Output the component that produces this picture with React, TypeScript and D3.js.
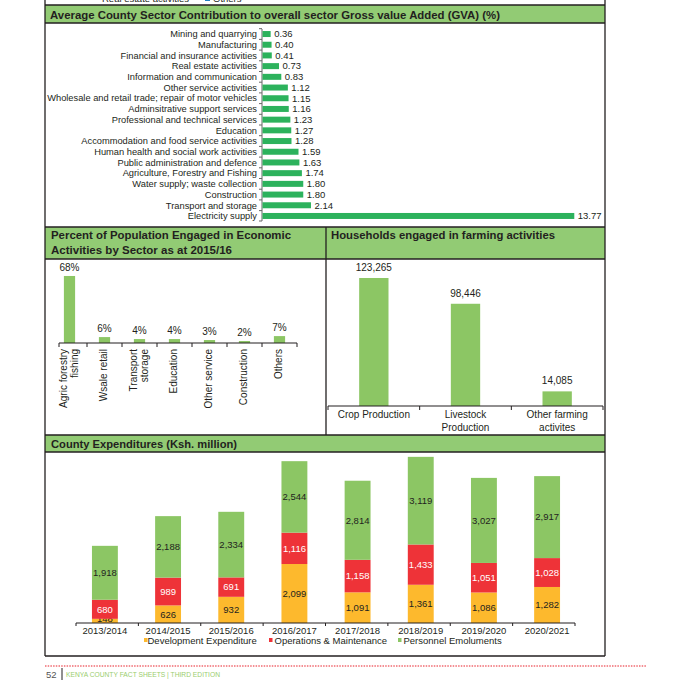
import React from 'react'
import * as d3 from 'd3'

// GVA contribution (%)
const gvaSectors = [
    'Mining and quarrying',
    'Manufacturing',
    'Financial and insurance activities',
    'Real estate activities',
    'Information and communication',
    'Other service activities',
    'Wholesale and retail trade; repair of motor vehicles',
    'Adminsitrative support services',
    'Professional and technical services',
    'Education',
    'Accommodation and food service activities',
    'Human health and social work activities',
    'Public administration and defence',
    'Agriculture, Forestry and Fishing',
    'Water supply; waste collection',
    'Construction',
    'Transport and storage',
    'Electricity supply',
]
const gvaValues = [0.36, 0.4, 0.41, 0.73, 0.83, 1.12, 1.15, 1.16, 1.23, 1.27, 1.28, 1.59, 1.63, 1.74, 1.8, 1.8, 2.14, 13.77]

// population engaged by sector (%)
const popSectors = [
    ['Agric forestry', 'fishing'],
    ['Wsale retail'],
    ['Transport', 'storage'],
    ['Education'],
    ['Other service'],
    ['Construction'],
    ['Others'],
]
const popValues = [68, 6, 4, 4, 3, 2, 7]

// households in farming
const farmCats = [['Crop Production'], ['Livestock', 'Production'], ['Other farming', 'activites']]
const farmValues = [123265, 98446, 14085]

// county expenditures
const years = ['2013/2014', '2014/2015', '2015/2016', '2016/2017', '2017/2018', '2018/2019', '2019/2020', '2020/2021']
const devExp = [148, 626, 932, 2099, 1091, 1361, 1086, 1282]
const opsMaint = [680, 989, 691, 1116, 1158, 1433, 1051, 1028]
const personnel = [1918, 2188, 2334, 2544, 2814, 3119, 3027, 2917]
const expSeries = ['Development Expenditure', 'Operations & Maintenance', 'Personnel Emoluments']

const FONT = "'Liberation Sans', Arial, Helvetica, sans-serif"
const INK = '#231f20'
const HEAD = '#92cb74'
const LIGHT = '#8cc664'
const DARK = '#2cb25c'
const YELLOW = '#fdb92d'
const RED = '#ee3338'

const fmt = d3.format(',')

const App: React.FC = () => {
    // GVA chart scales
    const gvaY = d3.scaleBand().domain(gvaSectors).range([29, 221]).paddingInner(0.44).paddingOuter(0.19)
    const gvaX = d3.scaleLinear().domain([0, 14]).range([262, 579])

    // population chart
    const popX = d3.scaleBand<number>().domain(d3.range(popValues.length)).range([52, 297]).paddingInner(0.68).paddingOuter(0.34)
    const popY = d3.scaleLinear().domain([0, 70]).range([343, 274])

    // farming chart
    const farmX = d3.scaleBand<number>().domain(d3.range(farmValues.length)).range([328, 603]).paddingInner(0.68).paddingOuter(0.34)
    const farmY = d3.scaleLinear().domain([0, 130000]).range([406, 271])

    // expenditure chart
    const expX = d3.scaleBand().domain(years).range([73, 579]).paddingInner(0.59).paddingOuter(0.3)
    const expY = d3.scaleLinear().domain([0, 6000]).range([623, 454.4])
    const stackData = years.map((y, i) => ({ year: y, dev: devExp[i], ops: opsMaint[i], per: personnel[i] }))
    const stacks = d3.stack<any>().keys(['dev', 'ops', 'per'])(stackData)
    const stackColors = [YELLOW, RED, LIGHT]
    const labelColors = [INK, '#ffffff', INK]

    const popStep = popX.step()
    const farmStep = farmX.step()
    const gvaGap = (gvaY.step() - gvaY.bandwidth()) / 2

    return (
        <svg
            width={689}
            height={692}
            style={{ position: 'absolute', left: 0, top: 0, background: '#fff' }}
            fontFamily={FONT}
        >
            {/* cut-off legend from the section above */}
            <text x={102} y={1.5} fontSize={9.5} fill={INK}>Real estate activities</text>
            <rect x={205} y={-6} width={5} height={7} fill="#1f7fc1" />
            <text x={213} y={1.5} fontSize={9.5} fill={INK}>Others</text>

            {/* header bands */}
            <rect x={45} y={5} width={560} height={18} fill={HEAD} />
            <rect x={45} y={227} width={560} height={32} fill={HEAD} />
            <rect x={45} y={435} width={560} height={17} fill={HEAD} />

            <text x={50} y={18.5} fontSize={11} fontWeight="bold" fill={INK} textLength={450} lengthAdjust="spacingAndGlyphs">
                Average County Sector Contribution to overall sector Gross value Added (GVA) (%)
            </text>
            <text x={51} y={239} fontSize={11} fontWeight="bold" fill={INK} textLength={240} lengthAdjust="spacingAndGlyphs">
                Percent of Population Engaged in Economic
            </text>
            <text x={51} y={253.5} fontSize={11} fontWeight="bold" fill={INK} textLength={181} lengthAdjust="spacingAndGlyphs">
                Activities by Sector as at 2015/16
            </text>
            <text x={331} y={239} fontSize={11} fontWeight="bold" fill={INK} textLength={224} lengthAdjust="spacingAndGlyphs">
                Households engaged in farming activities
            </text>
            <text x={51} y={447.5} fontSize={11} fontWeight="bold" fill={INK} textLength={186} lengthAdjust="spacingAndGlyphs">
                County Expenditures (Ksh. million)
            </text>

            {/* frame */}
            <g stroke={INK} strokeWidth={1.3} fill="none">
                <line x1={45} y1={0} x2={45} y2={656} />
                <line x1={605} y1={0} x2={605} y2={656} />
                <line x1={45} y1={5} x2={605} y2={5} />
                <line x1={45} y1={23} x2={605} y2={23} />
                <line x1={45} y1={227} x2={605} y2={227} />
                <line x1={45} y1={259} x2={605} y2={259} />
                <line x1={45} y1={435} x2={605} y2={435} />
                <line x1={45} y1={452} x2={605} y2={452} />
                <line x1={45} y1={656} x2={605} y2={656} />
                <line x1={326} y1={227} x2={326} y2={435} />
            </g>

            {/* GVA bars */}
            <g>
                <line x1={262} y1={29} x2={262} y2={221} stroke="#666" strokeWidth={1} />
                {gvaSectors.map((s, i) => (
                    <line key={'t' + i} x1={259} x2={262} y1={(gvaY(s) as number) - gvaGap} y2={(gvaY(s) as number) - gvaGap} stroke="#666" strokeWidth={1} />
                ))}
                <line x1={259} x2={262} y1={221} y2={221} stroke="#666" strokeWidth={1} />
                {gvaSectors.map((s, i) => {
                    const y = gvaY(s) as number
                    const cy = y + gvaY.bandwidth() / 2
                    return (
                        <g key={s}>
                            <rect x={gvaX(0) + 0.5} y={y} width={gvaX(gvaValues[i]) - gvaX(0)} height={gvaY.bandwidth()} fill={DARK} />
                            <text x={257} y={cy} dy="0.35em" textAnchor="end" fontSize={9.3} fill={INK}>{s}</text>
                            <text x={gvaX(gvaValues[i]) + 4} y={cy} dy="0.35em" fontSize={9.5} fill={INK}>
                                {gvaValues[i].toFixed(2)}
                            </text>
                        </g>
                    )
                })}
            </g>

            {/* population by sector */}
            <g>
                {popValues.map((v, i) => {
                    const x = popX(i) as number
                    const cx = x + popX.bandwidth() / 2
                    const lines = popSectors[i]
                    return (
                        <g key={'p' + i}>
                            <rect x={x} y={popY(v)} width={popX.bandwidth()} height={popY(0) - popY(v)} fill={LIGHT} />
                            <text x={cx} y={popY(v) - 5} textAnchor="middle" fontSize={10} fill={INK}>{v}%</text>
                            {lines.map((l, j) => {
                                const lx = lines.length === 1 ? cx - 1.5 : cx - 6 + j * 11
                                return (
                                    <text
                                        key={j}
                                        transform={`translate(${lx},349) rotate(-90)`}
                                        textAnchor="end"
                                        dy="0.35em"
                                        fontSize={10}
                                        fill={INK}
                                    >
                                        {l}
                                    </text>
                                )
                            })}
                        </g>
                    )
                })}
                <line x1={59} x2={297} y1={343} y2={343} stroke={INK} strokeWidth={1.2} />
                {d3.range(popValues.length + 1).map((i) => {
                    const tx = Math.max(59, 52 + i * popStep)
                    return <line key={'pt' + i} x1={tx} x2={tx} y1={343} y2={347} stroke={INK} strokeWidth={1} />
                })}
            </g>

            {/* households in farming */}
            <g>
                {farmValues.map((v, i) => {
                    const x = farmX(i) as number
                    const cx = x + farmX.bandwidth() / 2
                    return (
                        <g key={'f' + i}>
                            <rect x={x} y={farmY(v)} width={farmX.bandwidth()} height={farmY(0) - farmY(v)} fill={LIGHT} />
                            <text x={cx} y={farmY(v) - 7} textAnchor="middle" fontSize={10} fill={INK}>{fmt(v)}</text>
                            {farmCats[i].map((l, j) => (
                                <text key={j} x={cx} y={417.5 + j * 13} textAnchor="middle" fontSize={10} fill={INK}>{l}</text>
                            ))}
                        </g>
                    )
                })}
                <line x1={328} x2={603} y1={406} y2={406} stroke={INK} strokeWidth={1.2} />
                {d3.range(farmValues.length + 1).map((i) => {
                    const tx = 328 + i * farmStep
                    return <line key={'ft' + i} x1={tx} x2={tx} y1={406} y2={410} stroke={INK} strokeWidth={1} />
                })}
            </g>

            {/* county expenditures */}
            <g>
                {stacks.map((layer, k) =>
                    layer.map((d, i) => {
                        const x = expX(years[i]) as number
                        const y0 = expY(d[0])
                        const y1 = expY(d[1])
                        const cx = x + expX.bandwidth() / 2
                        const cy = Math.min((y0 + y1) / 2, 619)
                        const v = (d.data as any)[layer.key]
                        return (
                            <g key={layer.key + i}>
                                <rect x={x} y={y1} width={expX.bandwidth()} height={y0 - y1} fill={stackColors[k]} />
                                <text x={cx} y={cy} dy="0.35em" textAnchor="middle" fontSize={9.5} fill={labelColors[k]}>
                                    {fmt(v)}
                                </text>
                            </g>
                        )
                    })
                )}
                <line x1={76} x2={575} y1={623} y2={623} stroke={INK} strokeWidth={1.2} />
                {d3.range(years.length + 1).map((i) => {
                    const tx = 76 + i * ((575 - 76) / years.length)
                    return <line key={'et' + i} x1={tx} x2={tx} y1={623} y2={626} stroke={INK} strokeWidth={1} />
                })}
                {years.map((y) => (
                    <text key={y} x={(expX(y) as number) + expX.bandwidth() / 2} y={634} textAnchor="middle" fontSize={9.5} fill={INK}>
                        {y}
                    </text>
                ))}
                {/* legend */}
                {expSeries.map((s, k) => {
                    const lx = [144, 269, 398][k]
                    return (
                        <g key={s}>
                            <rect x={lx} y={638} width={3.5} height={4} fill={stackColors[k]} />
                            <text x={lx + (k === 0 ? 3.5 : 5.5)} y={643.5} fontSize={9.5} fill={INK}>{s}</text>
                        </g>
                    )
                })}
            </g>

            {/* footer */}
            <line x1={45} x2={646} y1={666} y2={666} stroke="#e8202a" strokeWidth={1.2} strokeDasharray="1.5,1.2" />
            <text x={46} y={677.5} fontSize={9.5} fill="#555">52</text>
            <line x1={62} x2={62} y1={668} y2={680} stroke={INK} strokeWidth={1} />
            <text x={66} y={676.5} fontSize={6.5} fill="#9acd6e" textLength={154} lengthAdjust="spacingAndGlyphs">
                KENYA COUNTY FACT SHEETS | THIRD EDITION
            </text>
        </svg>
    )
}

export default App
